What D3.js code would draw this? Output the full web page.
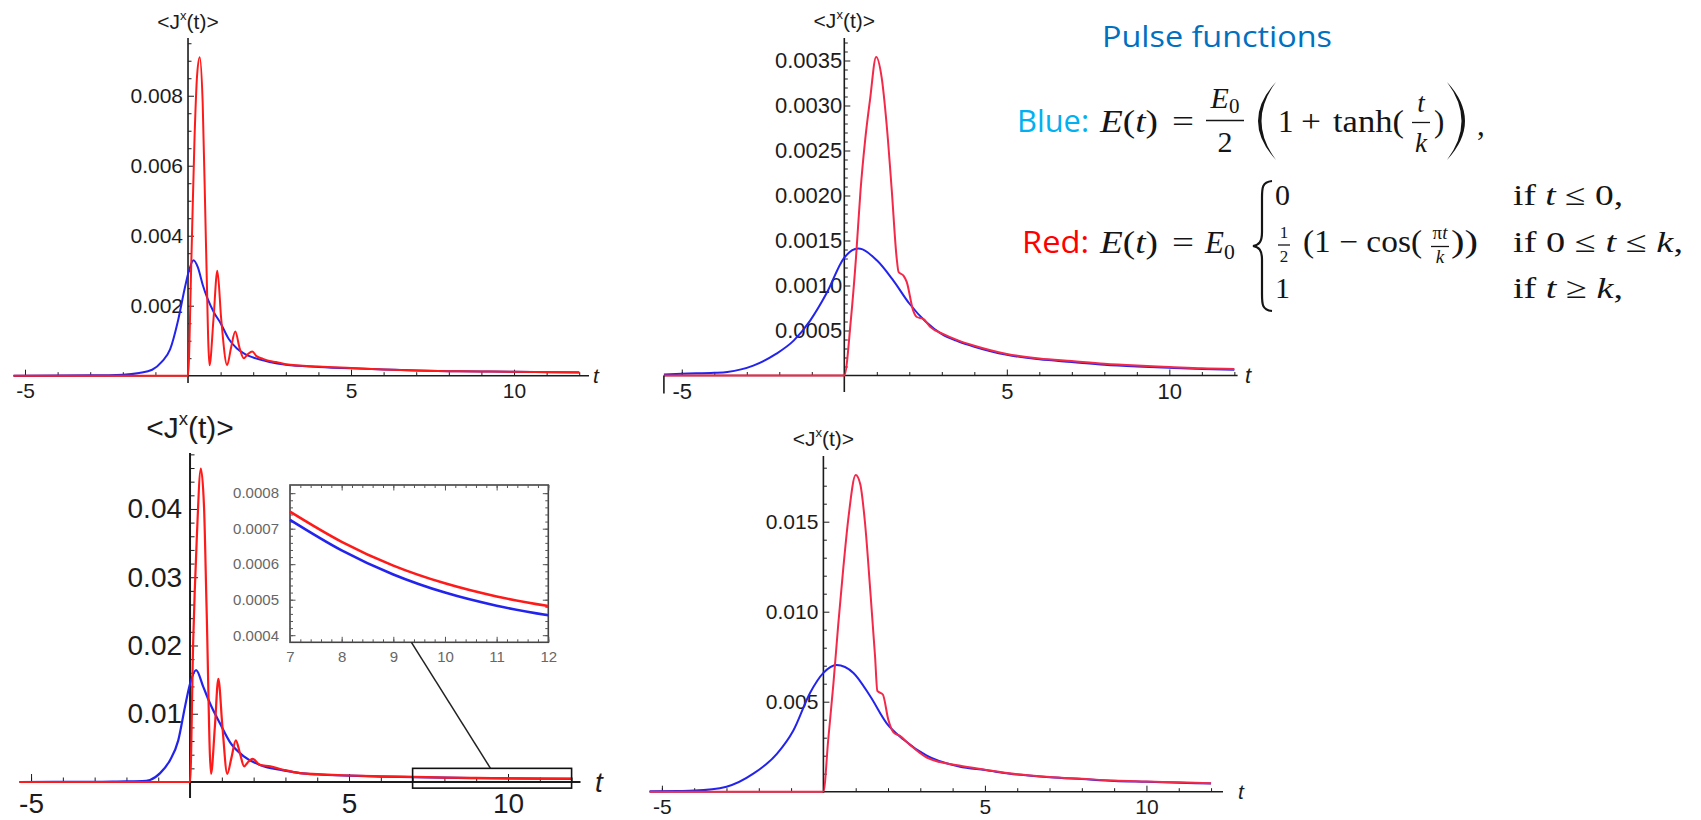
<!DOCTYPE html>
<html>
<head>
<meta charset="utf-8">
<script src="https://cdn.jsdelivr.net/npm/d3@7"></script>
<style>
body { margin: 0; background: #fff; }
svg { display: block; }
</style>
</head>
<body>
<script>
// ---- data ----
// top-left panel
var tlBlueT = [-5.35, -3, -2, -1.5, -1.1, -0.8, -0.55, -0.3, -0.1, 0, 0.17, 0.3, 0.45, 0.6, 0.8, 1.0, 1.25, 1.5, 1.75, 2.0, 2.5, 3, 4, 5, 6, 7, 8, 9, 10, 11, 12];
var tlBlueV = [0, 0.00001, 0.00003, 0.00008, 0.00017, 0.0004, 0.00075, 0.0016, 0.0025, 0.0029, 0.0033, 0.0031, 0.0026, 0.0022, 0.0018, 0.0015, 0.00105, 0.00078, 0.00062, 0.00052, 0.00039, 0.00031, 0.00025, 0.00021, 0.00018, 0.00015, 0.00013, 0.00012, 0.00011, 0.0001, 0.000095];
var tlRedT = [-5.35, 0, 0.1, 0.2, 0.28, 0.36, 0.45, 0.55, 0.66, 0.78, 0.9, 1.02, 1.2, 1.32, 1.45, 1.58, 1.71, 1.84, 1.97, 2.1, 2.3, 2.5, 2.7, 3, 4, 5, 6, 7, 8, 9, 10, 11, 12];
var tlRedV = [0, 0, 0.0032, 0.0068, 0.0086, 0.0091, 0.0078, 0.0038, 0.0003, 0.0016, 0.003, 0.0016, 0.0003, 0.0008, 0.00126, 0.0008, 0.0005, 0.00062, 0.00069, 0.00056, 0.00048, 0.00042, 0.00039, 0.00033, 0.00026, 0.00022, 0.00018, 0.00015, 0.00013, 0.00012, 0.00011, 0.000105, 0.0001];
var tlYTicks = [0.002, 0.004, 0.006, 0.008];

// top-right panel
var trBlueT = [-5.55, -5, -4, -3.6, -2.8, -2.1, -1.55, -1.05, -0.55, 0, 0.43, 1.0, 1.5, 2.0, 2.5, 3.0, 3.5, 4, 4.5, 5, 6, 7, 8, 9, 10, 11, 12];
var trBlueV = [0.00001, 0.00002, 0.00003, 0.00004, 0.00011, 0.00024, 0.00039, 0.00061, 0.00091, 0.00131, 0.00141, 0.00128, 0.00106, 0.0008, 0.0006, 0.00046, 0.00038, 0.00032, 0.00027, 0.00023, 0.00018, 0.00015, 0.00012, 0.0001, 0.000085, 0.000072, 0.000065];
var trRedT = [-5.55, 0, 0.2, 0.36, 0.5, 0.64, 0.79, 0.98, 1.15, 1.3, 1.46, 1.61, 1.67, 1.82, 1.92, 2.12, 2.23, 2.43, 2.64, 3.05, 3.5, 4, 4.5, 5, 6, 7, 8, 9, 10, 11, 12];
var trRedV = [0, 0, 0.00061, 0.00131, 0.00206, 0.00261, 0.00306, 0.00354, 0.00331, 0.0028, 0.00206, 0.00131, 0.00115, 0.00111, 0.00104, 0.00072, 0.00065, 0.00063, 0.00054, 0.00046, 0.00039, 0.00033, 0.00028, 0.00024, 0.00019, 0.00016, 0.00013, 0.00011, 0.000095, 0.00008, 0.000072];
var trYTicks = [0.0005, 0.0010, 0.0015, 0.0020, 0.0025, 0.0030, 0.0035];

// bottom-left panel
var blBlueT = [-5.36, -3, -2, -1.5, -1.26, -0.94, -0.63, -0.37, -0.16, 0, 0.19, 0.42, 0.63, 0.94, 1.26, 1.68, 2.2, 2.93, 3.46, 4, 5, 6, 7, 8, 9, 10, 11, 12];
var blBlueV = [0, 0.00003, 0.0001, 0.00012, 0.0003, 0.0013, 0.0032, 0.0061, 0.011, 0.0144, 0.0164, 0.0139, 0.0115, 0.0086, 0.0058, 0.0038, 0.0025, 0.0017, 0.0013, 0.0011, 0.00092, 0.0008, 0.00072, 0.00063, 0.00057, 0.00052, 0.00048, 0.000455];
var blRedT = [-5.36, 0, 0.1, 0.21, 0.34, 0.44, 0.52, 0.66, 0.78, 0.89, 1.02, 1.17, 1.3, 1.44, 1.57, 1.7, 1.84, 1.97, 2.2, 2.52, 2.93, 3.46, 4, 5, 6, 7, 8, 9, 10, 11, 12];
var blRedV = [0, 0, 0.0207, 0.0354, 0.0459, 0.0403, 0.0256, 0.0012, 0.008, 0.0151, 0.008, 0.0012, 0.0035, 0.0061, 0.0042, 0.0023, 0.003, 0.0034, 0.0025, 0.0023, 0.0018, 0.0013, 0.00115, 0.00095, 0.00083, 0.00075, 0.00065, 0.00059, 0.00054, 0.0005, 0.00048];
var blYTicks = [0.01, 0.02, 0.03, 0.04];

// inset of the bottom-left panel
var insetT = [7, 8, 9, 10, 11, 12];
var insetRed = [0.000748, 0.000663, 0.000596, 0.000546, 0.000509, 0.000482];
var insetBlue = [0.000725, 0.000639, 0.000571, 0.00052, 0.000483, 0.000456];
var insetXTicks = [7, 8, 9, 10, 11, 12];
var insetYTicks = [0.0004, 0.0005, 0.0006, 0.0007, 0.0008];

// bottom-right panel
var brBlueT = [-5.38, -4.5, -4, -3, -2.17, -1.44, -0.93, -0.41, 0, 0.41, 0.93, 1.45, 1.96, 2.48, 3.2, 4.2, 5, 6, 7, 8, 9, 10, 11, 12];
var brBlueV = [0.00002, 0.00004, 0.00006, 0.00028, 0.001, 0.0021, 0.0034, 0.0055, 0.0066, 0.00704, 0.0066, 0.0053, 0.0038, 0.0029, 0.002, 0.0014, 0.0012, 0.00095, 0.0008, 0.0007, 0.0006, 0.00055, 0.0005, 0.00045];
var brRedT = [-5.38, 0, 0.15, 0.31, 0.46, 0.62, 0.78, 1.0, 1.14, 1.29, 1.45, 1.6, 1.67, 1.84, 2.01, 2.17, 2.37, 2.68, 3.2, 4.2, 5, 6, 7, 8, 9, 10, 11, 12];
var brRedV = [0, 0, 0.0029, 0.006, 0.0093, 0.0125, 0.0153, 0.0176, 0.0171, 0.0149, 0.0112, 0.0075, 0.0056, 0.0054, 0.004, 0.0033, 0.0031, 0.0026, 0.0019, 0.00145, 0.00122, 0.00097, 0.00082, 0.00072, 0.00062, 0.00057, 0.00052, 0.00047];
var brYTicks = [0.005, 0.010, 0.015];

var xTickLabels = [-5, 5, 10];
var xMinorTicks = [-5, -4, -3, -2, -1, 1, 2, 3, 4, 6, 7, 8, 9, 11, 12];

// ---- drawing ----
var svg = d3.select("body").append("svg").attr("width", 1701).attr("height", 820);
var sans = "'Liberation Sans', Arial, sans-serif";
var axisColor = "#1c1c1c";

function cleanAxis(g, fs) {
    g.select(".domain").remove();
    g.attr("font-size", fs).attr("font-family", sans).attr("color", axisColor);
}

function drawPanel(p) {
    var x = d3.scaleLinear().domain(p.xDom).range(p.xRange);
    var y = d3.scaleLinear().domain([0, p.yMax]).range([p.y0, p.yTop]);
    var g = svg.append("g");

    // axis lines
    g.append("line").attr("x1", x(p.xDom[0])).attr("x2", x(p.xDom[1]))
        .attr("y1", y(0)).attr("y2", y(0)).attr("stroke", axisColor).attr("stroke-width", p.axisW);
    g.append("line").attr("x1", x(0)).attr("x2", x(0))
        .attr("y1", p.yAxisBottom).attr("y2", y(p.yMax)).attr("stroke", axisColor).attr("stroke-width", p.axisW);

    // x ticks
    g.append("g").attr("transform", "translate(0," + y(0) + ")")
        .call(d3.axisBottom(x).tickValues(xMinorTicks).tickSize(-p.minorLen).tickFormat(""))
        .call(cleanAxis, p.fs);
    g.append("g").attr("transform", "translate(0," + y(0) + ")")
        .call(d3.axisBottom(x).tickValues(xTickLabels).tickSize(-p.majorLen).tickPadding(p.xPad)
            .tickFormat(function(d) { return d < 0 ? "-" + (-d) : d; }))
        .call(cleanAxis, p.fs);

    // y ticks
    var minors = d3.range(p.yMinor, p.yMax, p.yMinor).filter(function(v) {
        return p.yTicks.every(function(t) { return Math.abs(t - v) > p.yMinor / 10; });
    });
    g.append("g").attr("transform", "translate(" + x(0) + ",0)")
        .call(d3.axisLeft(y).tickValues(minors).tickSize(-p.minorLen).tickFormat(""))
        .call(cleanAxis, p.fs);
    g.append("g").attr("transform", "translate(" + x(0) + ",0)")
        .call(d3.axisLeft(y).tickValues(p.yTicks).tickSize(-p.majorLen).tickPadding(p.yPad).tickFormat(d3.format(p.fmt)))
        .call(cleanAxis, p.fs);

    // title
    var title = g.append("text").attr("x", x(0)).attr("y", p.titleY).attr("text-anchor", "middle")
        .attr("font-family", sans).attr("font-size", p.titleFs).attr("fill", axisColor);
    title.append("tspan").text("<J");
    title.append("tspan").text("x").attr("font-size", p.titleFs * 0.62).attr("dy", -p.titleFs * 0.42);
    title.append("tspan").text("(t)>").attr("dy", p.titleFs * 0.42);

    // t label
    g.append("text").attr("x", p.tLabelX).attr("y", y(0) + p.fs * 0.35)
        .attr("font-family", sans).attr("font-style", "italic").attr("font-size", p.fs)
        .attr("fill", axisColor).text("t");

    // curves
    var line = d3.line().x(function(d) { return x(d[0]); }).y(function(d) { return y(d[1]); })
        .curve(d3.curveMonotoneX);
    g.append("path").datum(d3.zip(p.blueT, p.blueV)).attr("d", line)
        .attr("fill", "none").attr("stroke", "#2323ee").attr("stroke-width", p.lineW);
    g.append("path").datum(d3.zip(p.redT, p.redV)).attr("d", line)
        .attr("fill", "none").attr("stroke", p.redColor).attr("stroke-width", p.lineW);

    return { x: x, y: y, g: g };
}

var tl = drawPanel({
    xDom: [-5.35, 12.3], xRange: [13.6, 589], yMax: 0.00965, y0: 375.7, yTop: 38, yAxisBottom: 383,
    yTicks: tlYTicks, yMinor: 0.0005, fmt: ".3f", fs: 21, titleFs: 21, titleY: 29,
    xPad: 7, yPad: 5, axisW: 1.6, majorLen: 6, minorLen: 3.5, tLabelX: 593, lineW: 2,
    redColor: "#ff1a1a", blueT: tlBlueT, blueV: tlBlueV, redT: tlRedT, redV: tlRedV
});

var tr = drawPanel({
    xDom: [-5.55, 12.1], xRange: [663.9, 1237.6], yMax: 0.00375, y0: 375.5, yTop: 38, yAxisBottom: 392,
    yTicks: trYTicks, yMinor: 0.0001, fmt: ".4f", fs: 22, titleFs: 21, titleY: 28,
    xPad: 8, yPad: 2, axisW: 1.6, majorLen: 6, minorLen: 3.5, tLabelX: 1245, lineW: 2,
    redColor: "#f42848", blueT: trBlueT, blueV: trBlueV, redT: trRedT, redV: trRedV
});
// small mark at the left end of the top-right axis
tr.g.append("line").attr("x1", tr.x(-5.55)).attr("x2", tr.x(-5.55))
    .attr("y1", tr.y(0)).attr("y2", tr.y(0) + 18).attr("stroke", axisColor).attr("stroke-width", 1.6);

var bl = drawPanel({
    xDom: [-5.36, 12.28], xRange: [19.6, 580.5], yMax: 0.0482, y0: 782, yTop: 453, yAxisBottom: 798,
    yTicks: blYTicks, yMinor: 0.002, fmt: ".2f", fs: 28, titleFs: 30, titleY: 438,
    xPad: 11, yPad: 8, axisW: 2, majorLen: 8, minorLen: 4.5, tLabelX: 595, lineW: 2.2,
    redColor: "#ff1a1a", blueT: blBlueT, blueV: blBlueV, redT: blRedT, redV: blRedV
});

var br = drawPanel({
    xDom: [-5.38, 12.37], xRange: [649.6, 1223], yMax: 0.01865, y0: 791.7, yTop: 456, yAxisBottom: 793,
    yTicks: brYTicks, yMinor: 0.001, fmt: ".3f", fs: 21, titleFs: 21, titleY: 446,
    xPad: 7, yPad: 5, axisW: 1.6, majorLen: 6, minorLen: 3.5, tLabelX: 1238, lineW: 2,
    redColor: "#f42848", blueT: brBlueT, blueV: brBlueV, redT: brRedT, redV: brRedV
});

// ---- inset in the bottom-left panel ----
var ix = d3.scaleLinear().domain([7, 12]).range([290, 548.3]);
var iy = d3.scaleLinear().domain([0.00038, 0.000823]).range([642.3, 485]);
var ig = svg.append("g");
ig.append("rect").attr("x", ix(7)).attr("y", iy(0.000823)).attr("width", ix(12) - ix(7))
    .attr("height", iy(0.00038) - iy(0.000823)).attr("fill", "#fff").attr("stroke", "#444").attr("stroke-width", 1.6);
var ixMinor = d3.range(7, 12.01, 0.2);
var iyMinor = d3.range(0.0004, 0.00082, 0.00002);
function insetAxis(axisFn, scale, vals, len, tr, fmt, pad) {
    var a = axisFn(scale).tickValues(vals).tickSize(-len).tickPadding(pad || 3).tickFormat(fmt || "");
    ig.append("g").attr("transform", tr).call(a).call(function(g) {
        g.select(".domain").remove();
        g.attr("font-size", 15).attr("font-family", sans).attr("color", "#555");
        g.selectAll("text").attr("fill", "#666");
    });
}
var bottomTr = "translate(0," + iy(0.00038) + ")", topTr = "translate(0," + iy(0.000823) + ")";
var leftTr = "translate(" + ix(7) + ",0)", rightTr = "translate(" + ix(12) + ",0)";
insetAxis(d3.axisBottom, ix, ixMinor, 3, bottomTr);
insetAxis(d3.axisBottom, ix, insetXTicks, 5.5, bottomTr, d3.format("d"), 9);
insetAxis(d3.axisTop, ix, ixMinor, 3, topTr);
insetAxis(d3.axisTop, ix, insetXTicks, 5.5, topTr);
insetAxis(d3.axisLeft, iy, iyMinor, 3, leftTr);
insetAxis(d3.axisLeft, iy, insetYTicks, 5.5, leftTr, d3.format(".4f"), 11);
insetAxis(d3.axisRight, iy, iyMinor, 3, rightTr);
insetAxis(d3.axisRight, iy, insetYTicks, 5.5, rightTr);

var iline = d3.line().x(function(d) { return ix(d[0]); }).y(function(d) { return iy(d[1]); }).curve(d3.curveMonotoneX);
ig.append("path").datum(d3.zip(insetT, insetBlue)).attr("d", iline)
    .attr("fill", "none").attr("stroke", "#2323ee").attr("stroke-width", 2.6);
ig.append("path").datum(d3.zip(insetT, insetRed)).attr("d", iline)
    .attr("fill", "none").attr("stroke", "#ff1a1a").attr("stroke-width", 2.6);

// zoom box on the main axis and the connector to the inset
svg.append("rect").attr("x", bl.x(7)).attr("y", bl.y(0.002)).attr("width", bl.x(12) - bl.x(7))
    .attr("height", bl.y(-0.0009) - bl.y(0.002)).attr("fill", "none").attr("stroke", "#111").attr("stroke-width", 1.6);
svg.append("line").attr("x1", bl.x(9.45)).attr("y1", bl.y(0.002)).attr("x2", ix(9.35)).attr("y2", iy(0.00038))
    .attr("stroke", "#222").attr("stroke-width", 1.5);

// ---- pulse function formulas ----
var ui = "'Open Sans', 'Noto Sans', sans-serif";
svg.append("text").attr("x", 1102).attr("y", 47).attr("font-family", ui).attr("font-size", 30)
    .attr("textLength", 230).attr("lengthAdjust", "spacingAndGlyphs")
    .attr("fill", "#0070c0").text("Pulse functions");
svg.append("text").attr("x", 1017).attr("y", 132).attr("font-family", ui).attr("font-size", 31)
    .attr("textLength", 72).attr("lengthAdjust", "spacingAndGlyphs")
    .attr("fill", "#00b0f0").text("Blue:");
svg.append("text").attr("x", 1022).attr("y", 253).attr("font-family", ui).attr("font-size", 31)
    .attr("textLength", 67).attr("lengthAdjust", "spacingAndGlyphs")
    .attr("fill", "#ff0000").text("Red:");

var fx = svg.append("g").attr("font-family", "'Liberation Serif', 'Times New Roman', serif").attr("fill", "#151515");
function mtext(x, y, size, pieces, len, anchor) {
    var t = fx.append("text").attr("x", x).attr("y", y).attr("font-size", size)
        .attr("text-anchor", anchor || "start");
    pieces.forEach(function(p) {
        var s = t.append("tspan").text(p[0]);
        if (p[1] === "i") s.attr("font-style", "italic");
        if (p[1] === "sub") s.attr("font-size", size * 0.7).attr("dy", size * 0.18);
    });
    if (len) t.attr("textLength", len).attr("lengthAdjust", "spacingAndGlyphs");
    return t;
}
function bar(x1, x2, yy) {
    fx.append("line").attr("x1", x1).attr("x2", x2).attr("y1", yy).attr("y2", yy)
        .attr("stroke", "#151515").attr("stroke-width", 1.3);
}

// Blue line
mtext(1100, 132, 31, [["E", "i"], ["("], ["t", "i"], [")"]], 58);
mtext(1172, 132, 31, [["="]], 22);
mtext(1225, 108, 30, [["E", "i"], ["0", "sub"]], null, "middle");
bar(1206, 1244, 120.5);
mtext(1225, 152, 30, [["2"]], null, "middle");
fx.append("path").attr("d", "M1276,82 Q1240,121 1276,160 Q1247,121 1276,82 Z");
mtext(1278, 132, 31, [["1"]]);
mtext(1301, 132, 31, [["+"]], 20);
mtext(1333, 132, 31, [["tanh("]], 71);
mtext(1421, 112, 27, [["t", "i"]], null, "middle");
bar(1412, 1430, 122.5);
mtext(1421, 152, 27, [["k", "i"]], null, "middle");
mtext(1434, 132, 31, [[")"]]);
fx.append("path").attr("d", "M1447,82 Q1483,121 1447,160 Q1476,121 1447,82 Z");
mtext(1477, 135, 31, [[","]]);

// Red line
mtext(1100, 253, 31, [["E", "i"], ["("], ["t", "i"], [")"]], 58);
mtext(1172, 253, 31, [["="]], 22);
mtext(1205, 253, 31, [["E", "i"], ["0", "sub"]]);
fx.append("path").attr("fill", "none").attr("stroke", "#151515").attr("stroke-width", 2.2)
    .attr("d", "M1272,181 C1262,182 1262,188 1262,198 L1262,232 C1262,242 1259,245 1253,246 " +
        "C1259,247 1262,250 1262,260 L1262,294 C1262,304 1262,310 1272,311");
// row 1
mtext(1275, 205, 30, [["0"]]);
mtext(1513, 205, 30, [["if "], ["t", "i"], [" ≤ 0,"]], 110);
// row 2
mtext(1284, 238, 17, [["1"]], null, "middle");
bar(1278, 1290, 245);
mtext(1284, 262, 17, [["2"]], null, "middle");
mtext(1303, 252, 31, [["(1 − cos("]], 119);
mtext(1440, 239, 19, [["π"], ["t", "i"]], null, "middle");
bar(1431, 1449, 246.5);
mtext(1440, 263, 19, [["k", "i"]], null, "middle");
mtext(1451, 252, 31, [["))"]], 27);
mtext(1513, 252, 30, [["if 0 ≤ "], ["t", "i"], [" ≤ "], ["k", "i"], [","]], 170);
// row 3
mtext(1275, 298, 30, [["1"]]);
mtext(1513, 298, 30, [["if "], ["t", "i"], [" ≥ "], ["k", "i"], [","]], 110);
</script>
</body>
</html>
